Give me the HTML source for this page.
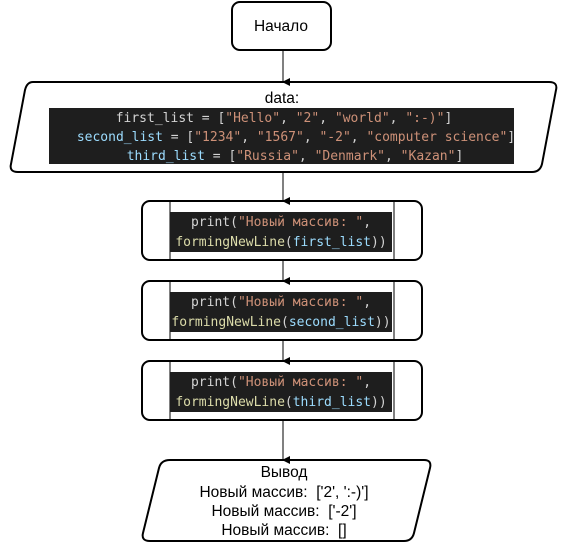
<!DOCTYPE html>
<html><head><meta charset="utf-8"><style>
body{margin:0;background:#fff;}
svg{display:block;}
.t{font-family:"Liberation Sans","Noto Sans CJK SC",sans-serif;font-size:15.5px;fill:#000;}
.c{font-family:"DejaVu Sans Mono","Liberation Mono",monospace;font-size:13px;}
</style></head><body>
<svg width="562" height="542" viewBox="0 0 562 542" xmlns="http://www.w3.org/2000/svg">
<defs><marker id="a" markerWidth="8" markerHeight="8" refX="4" refY="7" orient="auto" markerUnits="userSpaceOnUse"><path d="M0,0 L8,0 L4,8 z" fill="#000"/></marker></defs>
<g stroke="#000" stroke-width="2" fill="#fff">
<rect x="232" y="2" width="99" height="48" rx="8"/>
<path d="M33,82 L549,82 Q558,82 556,90 L542,164 Q540,172 532,172 L18,172 Q9,172 11,164 L25,90 Q27,82 33,82 z"/>
<rect x="142" y="201" width="280" height="59" rx="8"/>
<rect x="142" y="281" width="280" height="59" rx="8"/>
<rect x="142" y="361" width="280" height="59" rx="8"/>
<path d="M170,460 L424,460 Q432,460 430,468 L414,533 Q412,541 404,541 L150,541 Q141,541 143,533 L159,468 Q161,460 170,460 z"/>
</g>
<g stroke="#000" stroke-width="1" fill="none">
<line x1="283" y1="50" x2="283" y2="82" marker-end="url(#a)"/>
<line x1="283" y1="172" x2="283" y2="201" marker-end="url(#a)"/>
<line x1="283" y1="260" x2="283" y2="281" marker-end="url(#a)"/>
<line x1="283" y1="340" x2="283" y2="361" marker-end="url(#a)"/>
<line x1="283" y1="420" x2="283" y2="460" marker-end="url(#a)"/>
<line x1="170" y1="201" x2="170" y2="260"/><line x1="394" y1="201" x2="394" y2="260"/>
<line x1="170" y1="281" x2="170" y2="340"/><line x1="394" y1="281" x2="394" y2="340"/>
<line x1="170" y1="361" x2="170" y2="420"/><line x1="394" y1="361" x2="394" y2="420"/>
</g>
<text class="t" x="281" y="31" text-anchor="middle">Начало</text>
<text class="t" x="282" y="103" text-anchor="middle">data:</text>
<rect x="49" y="108" width="465" height="56" fill="#1e1e1e"/>
<text class="c" x="284" y="122" text-anchor="middle" xml:space="preserve"><tspan fill="#d4d4d4">first_list = [</tspan><tspan fill="#ce9178">"Hello"</tspan><tspan fill="#d4d4d4">, </tspan><tspan fill="#ce9178">"2"</tspan><tspan fill="#d4d4d4">, </tspan><tspan fill="#ce9178">"world"</tspan><tspan fill="#d4d4d4">, </tspan><tspan fill="#ce9178">":-)"</tspan><tspan fill="#d4d4d4">]</tspan></text>
<text class="c" x="296" y="141" text-anchor="middle" xml:space="preserve"><tspan fill="#9cdcfe">second_list</tspan><tspan fill="#d4d4d4"> = [</tspan><tspan fill="#ce9178">"1234"</tspan><tspan fill="#d4d4d4">, </tspan><tspan fill="#ce9178">"1567"</tspan><tspan fill="#d4d4d4">, </tspan><tspan fill="#ce9178">"-2"</tspan><tspan fill="#d4d4d4">, </tspan><tspan fill="#ce9178">"computer science"</tspan><tspan fill="#d4d4d4">]</tspan></text>
<text class="c" x="295" y="160" text-anchor="middle" xml:space="preserve"><tspan fill="#9cdcfe">third_list</tspan><tspan fill="#d4d4d4"> = [</tspan><tspan fill="#ce9178">"Russia"</tspan><tspan fill="#d4d4d4">, </tspan><tspan fill="#ce9178">"Denmark"</tspan><tspan fill="#d4d4d4">, </tspan><tspan fill="#ce9178">"Kazan"</tspan><tspan fill="#d4d4d4">]</tspan></text>

<rect x="170" y="212" width="222" height="40" fill="#1e1e1e"/>
<text class="c" x="281" y="226" text-anchor="middle" xml:space="preserve"><tspan fill="#d4d4d4">print(</tspan><tspan fill="#ce9178">"Новый массив: "</tspan><tspan fill="#d4d4d4">,</tspan></text>
<text class="c" x="281" y="246" text-anchor="middle"><tspan fill="#dcdcaa">formingNewLine</tspan><tspan fill="#d4d4d4">(</tspan><tspan fill="#9cdcfe">first_list</tspan><tspan fill="#d4d4d4">))</tspan></text>

<rect x="170" y="292" width="222" height="40" fill="#1e1e1e"/>
<text class="c" x="281" y="306" text-anchor="middle" xml:space="preserve"><tspan fill="#d4d4d4">print(</tspan><tspan fill="#ce9178">"Новый массив: "</tspan><tspan fill="#d4d4d4">,</tspan></text>
<text class="c" x="281" y="326" text-anchor="middle"><tspan fill="#dcdcaa">formingNewLine</tspan><tspan fill="#d4d4d4">(</tspan><tspan fill="#9cdcfe">second_list</tspan><tspan fill="#d4d4d4">))</tspan></text>

<rect x="170" y="372" width="222" height="40" fill="#1e1e1e"/>
<text class="c" x="281" y="386" text-anchor="middle" xml:space="preserve"><tspan fill="#d4d4d4">print(</tspan><tspan fill="#ce9178">"Новый массив: "</tspan><tspan fill="#d4d4d4">,</tspan></text>
<text class="c" x="281" y="406" text-anchor="middle"><tspan fill="#dcdcaa">formingNewLine</tspan><tspan fill="#d4d4d4">(</tspan><tspan fill="#9cdcfe">third_list</tspan><tspan fill="#d4d4d4">))</tspan></text>

<text class="t" x="284" y="477" text-anchor="middle">Вывод</text>
<text class="t" x="284" y="497" text-anchor="middle" xml:space="preserve">Новый массив:  ['2', ':-)']</text>
<text class="t" x="284" y="516" text-anchor="middle" xml:space="preserve">Новый массив:  ['-2']</text>
<text class="t" x="284" y="535" text-anchor="middle" xml:space="preserve">Новый массив:  []</text>
</svg>
</body></html>
